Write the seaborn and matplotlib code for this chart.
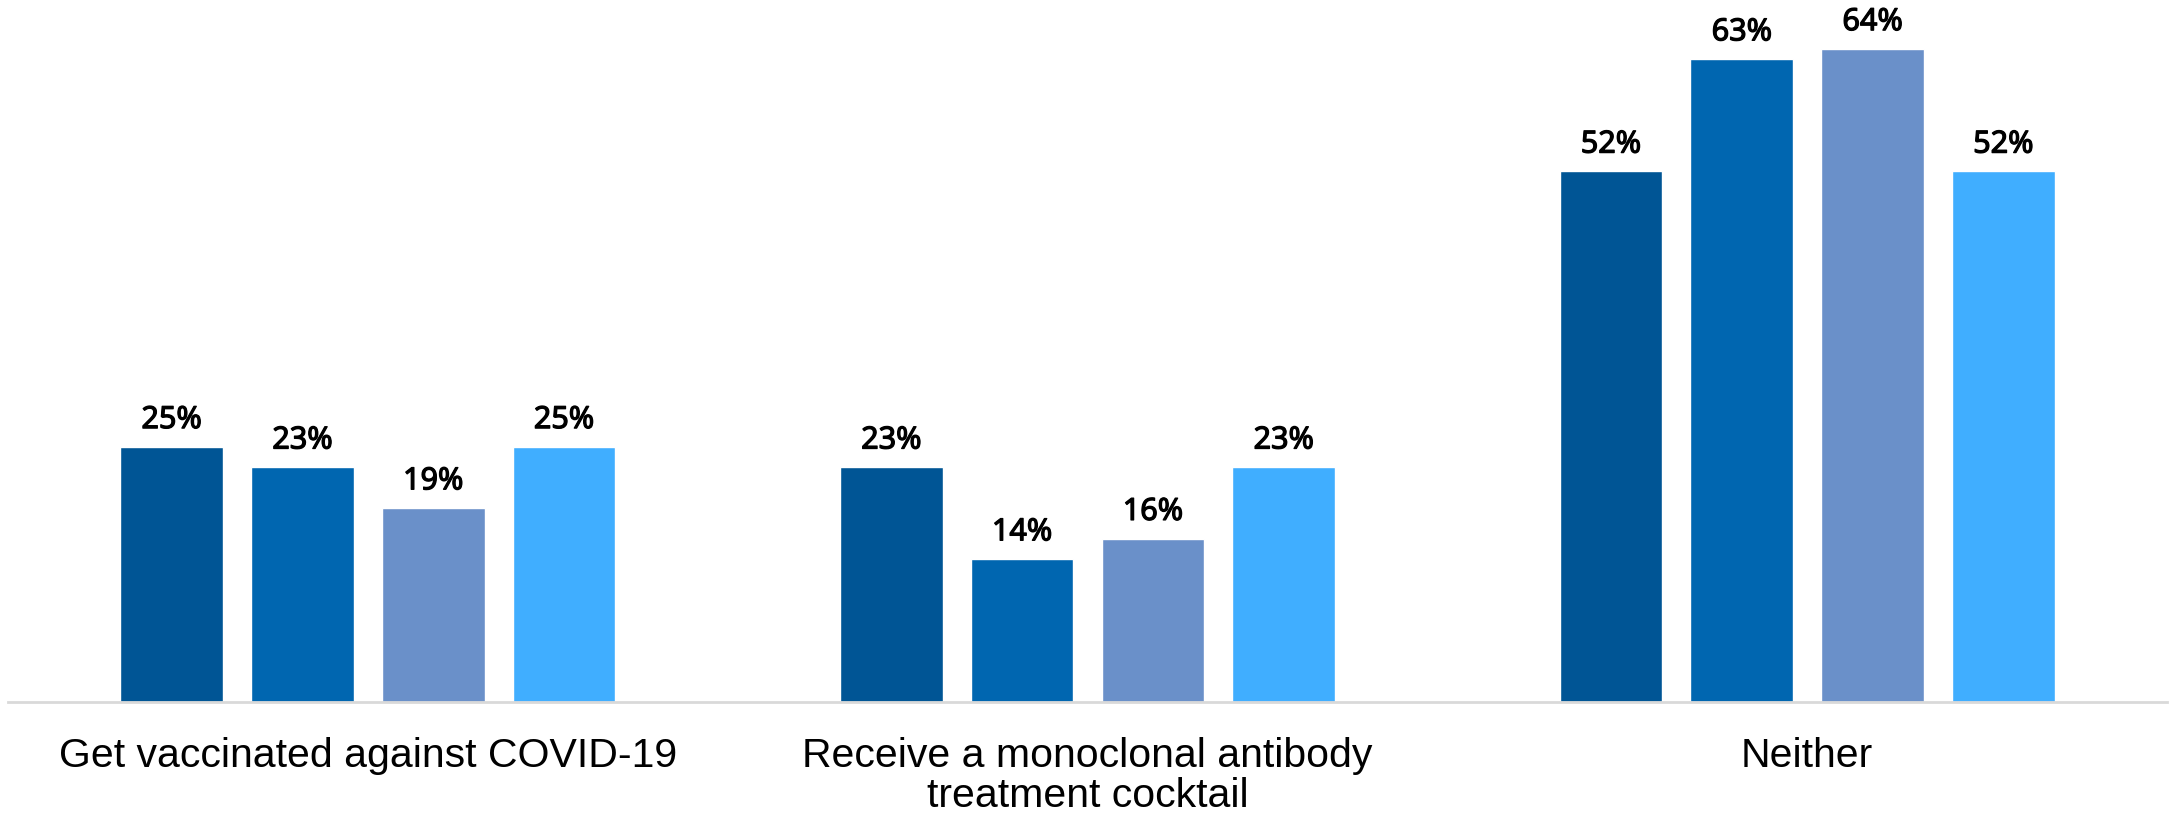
import pandas as pd
import numpy as np
import matplotlib.pyplot as plt
import matplotlib.patheffects as pe
import seaborn as sns

categories = ['Get vaccinated against COVID-19',
              'Receive a monoclonal antibody\ntreatment cocktail',
              'Neither']
groups = ['Group 1', 'Group 2', 'Group 3', 'Group 4']
vals_g1 = [25, 23, 52]
vals_g2 = [23, 14, 63]
vals_g3 = [19, 16, 64]
vals_g4 = [25, 23, 52]
colors = ['#005595', '#0066B0', '#6A90C9', '#40AEFF']

rows = []
for g, vals in zip(groups, [vals_g1, vals_g2, vals_g3, vals_g4]):
    for c, v in zip(categories, vals):
        rows.append({'category': c, 'group': g, 'value': v})
df = pd.DataFrame(rows)

sns.set_style('white')
plt.rcParams['font.family'] = ['Liberation Sans', 'DejaVu Sans']

fig = plt.figure(figsize=(21.77, 8.15), dpi=100)
ax = fig.add_axes([8/2177, 113/815, 2159/2177, 702/815])

sns.barplot(data=df, x='category', y='value', hue='group', order=categories,
            hue_order=groups, palette=colors, width=0.727, gap=0.215,
            legend=False, ax=ax, saturation=1)

# medium-weight look for the value labels
thick = [pe.withStroke(linewidth=0.9, foreground='black')]
for cont in ax.containers:
    for bar in cont:
        h = bar.get_height()
        ax.annotate(f'{h:.0f}%', (bar.get_x() + bar.get_width()/2, h),
                    xytext=(0, 8.5), textcoords='offset points',
                    ha='center', va='bottom', fontsize=22, color='black',
                    family=['Noto Sans', 'Open Sans', 'DejaVu Sans'],
                    path_effects=thick)

ax.set_ylim(0, 68.8)
ax.set_xlim(-0.5, 2.5)
ax.set_xlabel('')
ax.set_ylabel('')
ax.set_yticks([])
for s in ['top', 'right', 'left']:
    ax.spines[s].set_visible(False)
ax.spines['bottom'].set_color('#D9D9D9')
ax.spines['bottom'].set_linewidth(2)
ax.tick_params(axis='x', length=0, pad=25)
for lbl in ax.get_xticklabels():
    lbl.set_fontsize(29.5)
    lbl.set_linespacing(1.08)
    lbl.set_color('black')

fig.savefig('out.png', dpi=100)
